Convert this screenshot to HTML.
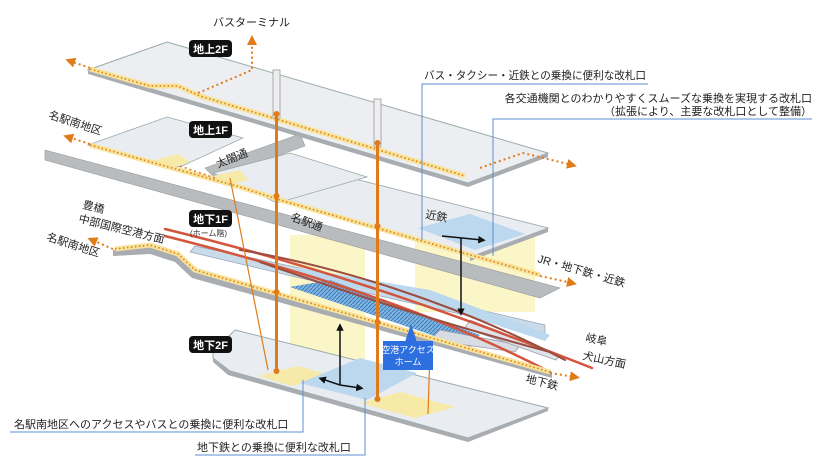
<!DOCTYPE html>
<html><head><meta charset="utf-8"><style>
html,body{margin:0;padding:0;background:#fff;}
svg{display:block;font-family:"Liberation Sans","Noto Sans CJK JP",sans-serif;}
</style></head><body>
<svg width="823" height="465" viewBox="0 0 823 465" xmlns="http://www.w3.org/2000/svg">
<defs>
<pattern id="hat" width="4" height="4" patternUnits="userSpaceOnUse"><rect width="4" height="4" fill="#7fb3dd"/><path d="M0 4L4 0" stroke="#3d7fc0" stroke-width="1"/></pattern>
<marker id="ar" viewBox="0 0 10 10" refX="5" refY="5" markerWidth="5" markerHeight="5" orient="auto"><path d="M0 0L10 5L0 10z" fill="#e07b1a"/></marker>
<marker id="bk" viewBox="0 0 10 10" refX="5" refY="5" markerWidth="5" markerHeight="5" orient="auto"><path d="M0 0L10 5L0 10z" fill="#111"/></marker>
</defs>
<rect x="290" y="235" width="75" height="150" fill="#fbf6c8"/>
<rect x="415" y="232" width="120" height="80" fill="#fbf6c8"/>

<polygon points="235,330 548,408 468,438 230,371 213,358 213,352" fill="#e9ecf0" stroke="#9aa" stroke-width="1"/>
<polygon points="213,358 230,371 468,438 468,442 228,375 213,362" fill="#a9adb1"/>
<polygon points="468,438 548,408 548,411 468,442" fill="#a9adb1"/>
<polygon points="258,376 298,366 330,375 292,386" fill="#f7e9a8"/>
<polygon points="300,383 360,358 417,373 367,400" fill="#bcd8ee"/>
<polygon points="360,403 400,392 455,407 415,418" fill="#f7e9a8"/>

<polygon points="195,246 300,268 545,325 545,333 300,278 190,252" fill="#c9dbe9" stroke="#9ab" stroke-width="0.8"/>
<polygon points="300,268 430,290 550,335 545,341 420,300 290,275" fill="#bcd8ee"/>
<polygon points="290,287 330,280 480,335 470,348" fill="url(#hat)"/>
<polygon points="440,330 520,345 515,352 430,340" fill="#d7dde3" stroke="#99a" stroke-width="0.8"/>
<polygon points="470,320 560,355 556,360 465,328" fill="#dfe4ea" stroke="#99a" stroke-width="0.8"/>
<g fill="none" stroke-linecap="round">
<path d="M165,229 C300,262 420,300 592,368" stroke="#d3553e" stroke-width="2.5"/>
<path d="M165,236 C300,270 430,310 550,372" stroke="#d3553e" stroke-width="2.5"/>
<path d="M240,250 C330,265 450,300 565,360" stroke="#9b4d40" stroke-width="2"/>
<path d="M260,262 C340,290 430,320 550,352" stroke="#9b4d40" stroke-width="2"/>
</g>
<polygon points="113,250 150,246 178,255 195,272 552,372 552,378 192,278 175,262 150,254 113,256" fill="#a9adb1"/>
<polyline points="115,249 150,245 178,254 195,270 550,372" fill="none" stroke="#f7e39a" stroke-width="5"/>
<polyline points="115,249 150,245 178,254 195,270 550,372" fill="none" stroke="#e07b1a" stroke-width="1.6" stroke-dasharray="1.5 2.5"/>
<line x1="550" y1="373" x2="575" y2="377" stroke="#e07b1a" stroke-width="2" stroke-dasharray="2 3" marker-end="url(#ar)"/>
<line x1="113" y1="249" x2="92" y2="240" stroke="#e07b1a" stroke-width="2" stroke-dasharray="2 3" marker-end="url(#ar)"/>

<polygon points="300,165 548,228 470,257 250,192" fill="#e9ecf0" stroke="#9aa" stroke-width="0.8"/>
<polygon points="418,228 470,214 525,234 475,250" fill="#bcd8ee"/>
<polygon points="470,257 548,228 548,232 470,261" fill="#a9adb1"/>

<polygon points="45,150 560,288 540,298 45,160" fill="#b9bcbf" stroke="#999" stroke-width="0.6"/>
<polygon points="205,168 300,134 305,146 215,178" fill="#b9bcbf" stroke="#999" stroke-width="0.6"/>
<polygon points="167,117 243,138 180,167 88,145" fill="#e9ecf0" stroke="#9aa" stroke-width="0.8"/>
<polygon points="290,153 367,177 277,203 213,173" fill="#e9ecf0" stroke="#9aa" stroke-width="0.8"/>
<polygon points="155,160 178,154 190,162 170,168" fill="#f7e9a8"/>
<polygon points="213,176 240,170 248,180 225,186" fill="#f7e9a8"/>
<polyline points="90,145 240,187 280,200 540,275" fill="none" stroke="#f7e39a" stroke-width="5"/>
<polyline points="90,145 240,187 280,200 540,275" fill="none" stroke="#e07b1a" stroke-width="1.6" stroke-dasharray="1.5 2.5"/>
<line x1="540" y1="276" x2="572" y2="283" stroke="#e07b1a" stroke-width="2" stroke-dasharray="2 3" marker-end="url(#ar)"/>
<line x1="90" y1="144" x2="68" y2="137" stroke="#e07b1a" stroke-width="2" stroke-dasharray="2 3" marker-end="url(#ar)"/>
<line x1="180" y1="166" x2="215" y2="178" stroke="#e07b1a" stroke-width="1.5" stroke-dasharray="2 3"/>

<polygon points="167,42 548,153 468,183 88,70" fill="#eceef1" stroke="#9aa" stroke-width="1"/>
<polygon points="88,70 468,183 468,187 88,74" fill="#a9adb1"/>
<polygon points="468,183 548,153 548,157 468,187" fill="#a9adb1"/>
<polyline points="90,69 150,86 178,86 200,96 465,176" fill="none" stroke="#f7e39a" stroke-width="5"/>
<polyline points="90,69 150,86 178,86 200,96 465,176" fill="none" stroke="#e07b1a" stroke-width="1.6" stroke-dasharray="1.5 2.5"/>
<line x1="90" y1="68" x2="70" y2="61" stroke="#e07b1a" stroke-width="2" stroke-dasharray="2 3" marker-end="url(#ar)"/>
<polyline points="198,93 252,70 252,40" fill="none" stroke="#e07b1a" stroke-width="2" stroke-dasharray="2 3" marker-end="url(#ar)"/>
<polyline points="480,168 523,153 572,165" fill="none" stroke="#e07b1a" stroke-width="2" stroke-dasharray="2 3" marker-end="url(#ar)"/>

<rect x="273" y="70" width="7" height="48" fill="#eee" stroke="#999" stroke-width="0.8"/>
<rect x="374" y="99" width="7" height="48" fill="#eee" stroke="#999" stroke-width="0.8"/>
<line x1="276.5" y1="115" x2="276.5" y2="372" stroke="#e07b1a" stroke-width="3"/>
<line x1="377.5" y1="144" x2="377.5" y2="400" stroke="#e07b1a" stroke-width="3"/>
<g fill="#e07b1a"><circle cx="276.5" cy="114" r="3"/><circle cx="276.5" cy="196" r="3"/><circle cx="276.5" cy="292" r="3"/><circle cx="276.5" cy="371" r="3"/><circle cx="377.5" cy="143" r="3"/><circle cx="377.5" cy="226" r="3"/><circle cx="377.5" cy="322" r="3"/><circle cx="377.5" cy="399" r="3"/></g>
<line x1="230" y1="178" x2="268" y2="370" stroke="#e07b1a" stroke-width="1.2"/>
<line x1="430" y1="350" x2="428" y2="414" stroke="#e07b1a" stroke-width="1.2"/>

<g stroke="#111" stroke-width="1.5" fill="none">
<line x1="340" y1="385" x2="340" y2="327" marker-end="url(#bk)"/>
<line x1="340" y1="385" x2="322" y2="379" marker-end="url(#bk)"/>
<line x1="340" y1="385" x2="360" y2="388" marker-end="url(#bk)"/>
<line x1="442" y1="236" x2="482" y2="240" marker-end="url(#bk)"/>
<line x1="461" y1="238" x2="461" y2="312" marker-end="url(#bk)"/>
</g>

<g stroke="#5b8fd0" stroke-width="1" fill="none">
<polyline points="422,240 422,84 648,84"/>
<polyline points="493,256 493,119 812,119"/>
<polyline points="10,432 303,432 303,380"/>
<polyline points="195,455 365,455 365,398"/>
</g>

<g font-size="11" fill="#222">
<text x="213" y="26">バスターミナル</text>
<text x="424" y="79" textLength="222" lengthAdjust="spacingAndGlyphs">バス・タクシー・近鉄との乗換に便利な改札口</text>
<text x="812" y="102" text-anchor="end">各交通機関とのわかりやすくスムーズな乗換を実現する改札口</text>
<text x="812" y="115" text-anchor="end">（拡張により、主要な改札口として整備）</text>
<text x="14" y="428">名駅南地区へのアクセスやバスとの乗換に便利な改札口</text>
<text x="197" y="451">地下鉄との乗換に便利な改札口</text>
<text x="48" y="118" transform="rotate(18 48 118)">名駅南地区</text>
<text x="46" y="240" transform="rotate(18 46 240)">名駅南地区</text>
<text x="82" y="208" transform="rotate(14 82 208)">豊橋</text>
<text x="78" y="222" transform="rotate(14 78 222)">中部国際空港方面</text>
<text x="218" y="168" transform="rotate(-22 218 168)">太閤通</text>
<text x="290" y="220" transform="rotate(20 290 220)">名駅通</text>
<text x="425" y="218" transform="rotate(10 425 218)">近鉄</text>
<text x="537" y="262" transform="rotate(16 537 262)">JR・地下鉄・近鉄</text>
<text x="585" y="341" transform="rotate(12 585 341)">岐阜</text>
<text x="582" y="359" transform="rotate(12 582 359)">犬山方面</text>
<text x="525" y="382" transform="rotate(14 525 382)">地下鉄</text>
</g>
<g font-size="11" font-weight="bold" fill="#fff">
<rect x="189" y="40" width="43" height="17" rx="4" fill="#111"/><text x="210.5" y="53" text-anchor="middle">地上2F</text>
<rect x="189" y="121" width="43" height="17" rx="4" fill="#111"/><text x="210.5" y="134" text-anchor="middle">地上1F</text>
<rect x="189" y="210" width="43" height="17" rx="4" fill="#111"/><text x="210.5" y="223" text-anchor="middle">地下1F</text>
<rect x="189" y="336" width="43" height="17" rx="4" fill="#111"/><text x="210.5" y="349" text-anchor="middle">地下2F</text>
</g>
<text x="190" y="236" font-size="8" fill="#333">(ホーム階)</text>
<polygon points="411,324 405,342 417,342" fill="#2e6fe0"/>
<rect x="383" y="341" width="50" height="29" fill="#2e6fe0"/>
<text x="408" y="353" font-size="9" fill="#fff" text-anchor="middle">空港アクセス</text>
<text x="408" y="365" font-size="9" fill="#fff" text-anchor="middle">ホーム</text>
</svg>
</body></html>
